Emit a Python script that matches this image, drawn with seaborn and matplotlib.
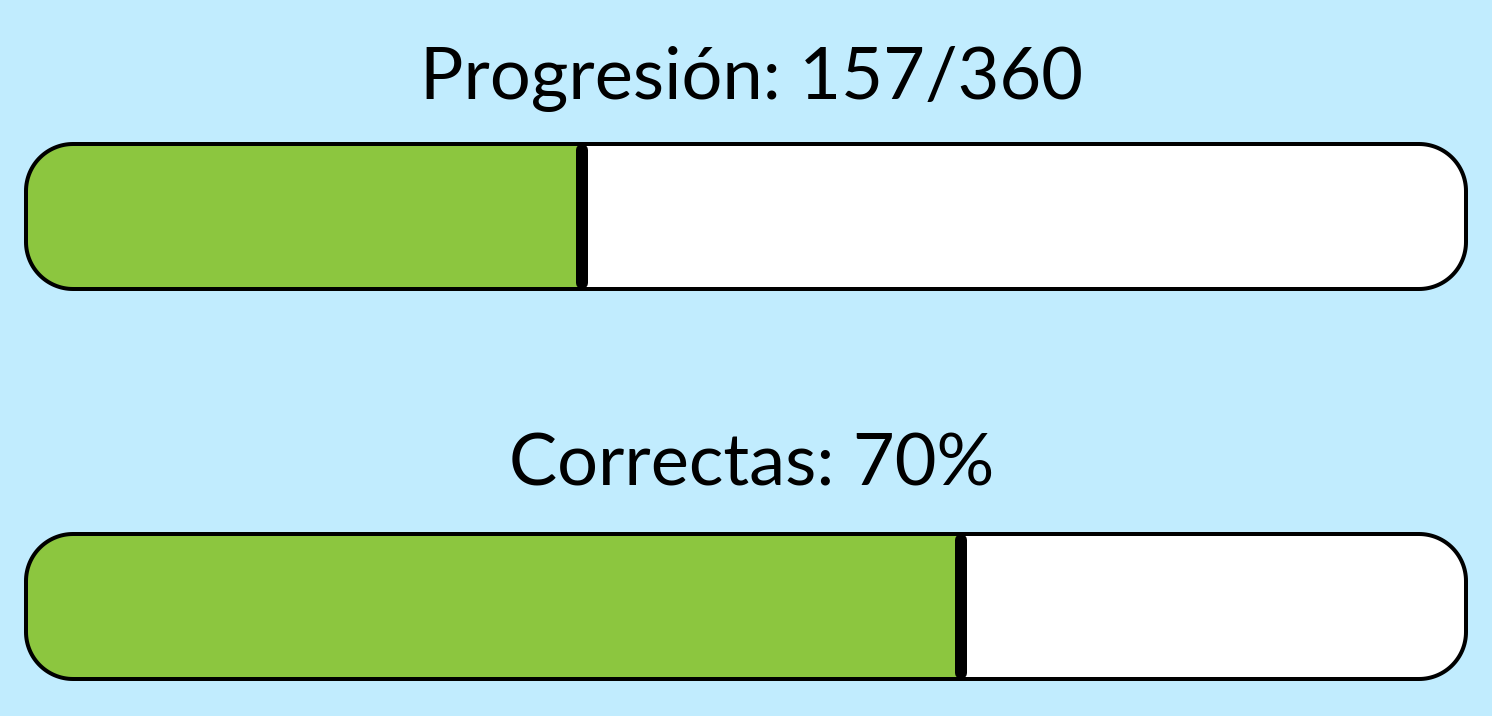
import matplotlib
matplotlib.use("Agg")
import numpy as np
import matplotlib.pyplot as plt
import seaborn as sns
import pandas as pd
from matplotlib.patches import PathPatch
from matplotlib.path import Path

# ---- data ----
metrics = ["Progresión", "Correctas"]
titles = ["Progresión: 157/360", "Correctas: 70%"]
fill_fraction = [0.386, 0.649]   # filled share of each bar, as drawn
full = [1.0, 1.0]

df = pd.DataFrame({"metric": metrics, "fill": fill_fraction, "full": full})

# ---- style ----
sns.set_theme(style="white")
plt.rcParams["font.family"] = ["Lato", "DejaVu Sans"]

BG = "#C1ECFE"
GREEN = "#8CC63F"

W, H, DPI = 1492, 716, 100
fig = plt.figure(figsize=(W / DPI, H / DPI), dpi=DPI, facecolor=BG)

# layout in pixels
left_px, width_px = 26, 1440
spacing_px = 390            # distance between bar centres
first_center_px = 216.5     # centre of first bar from top
bar_h_px = 145
radius_px = 47
title_gap_px = [44.5, 49]   # baseline distance above each bar
title_center_px = 752

ax = fig.add_axes([left_px / W, 0, width_px / W, 1])
ax.set_facecolor("none")

bar_w = bar_h_px / spacing_px

sns.barplot(data=df, y="metric", x="full", color="white", saturation=1,
            width=bar_w, orient="h", linewidth=0, ax=ax, zorder=1)
sns.barplot(data=df, y="metric", x="fill", color=GREEN, saturation=1,
            width=bar_w, orient="h", linewidth=0, ax=ax, zorder=2)

ax.set_xlim(0, 1)
y_top = -first_center_px / spacing_px
y_bot = (H - first_center_px) / spacing_px
ax.set_ylim(y_bot, y_top)
ax.axis("off")

px_per_x = width_px / 1.0
px_per_y = spacing_px
rx = radius_px / px_per_x
ry = radius_px / px_per_y


def rounded_rect(x0, y0, w, h):
    """Rounded rectangle path in data units with circular (in pixels) corners."""
    x1, y1 = x0 + w, y0 + h

    def arc(cx, cy, a0, a1):
        t = np.linspace(np.radians(a0), np.radians(a1), 32)
        return list(zip(cx + rx * np.cos(t), cy + ry * np.sin(t)))

    pts = []
    pts += arc(x0 + rx, y0 + ry, 180, 270)
    pts += arc(x1 - rx, y0 + ry, 270, 360)
    pts += arc(x1 - rx, y1 - ry, 0, 90)
    pts += arc(x0 + rx, y1 - ry, 90, 180)
    verts = pts + [pts[0]]
    codes = [Path.MOVETO] + [Path.LINETO] * (len(pts) - 1) + [Path.CLOSEPOLY]
    return Path(verts, codes)


lw_border = 4 * 72 / DPI
lw_div = 12 * 72 / DPI

n = len(metrics)
white_bars = ax.patches[:n]
green_bars = ax.patches[n:2 * n]

for i in range(n):
    wb = white_bars[i]
    x0, y0 = wb.get_x(), wb.get_y()
    w, h = wb.get_width(), wb.get_height()
    path = rounded_rect(x0, y0, w, h)

    clip = PathPatch(path, transform=ax.transData, facecolor="none", edgecolor="none")
    wb.set_clip_path(clip)
    green_bars[i].set_clip_path(clip)

    outline = PathPatch(path, facecolor="none", edgecolor="black",
                        linewidth=lw_border, joinstyle="round", zorder=4,
                        clip_on=False)
    ax.add_patch(outline)

    gb = green_bars[i]
    xf = gb.get_x() + gb.get_width()
    inset = 6 / px_per_y
    ax.plot([xf, xf], [y0 + inset, y0 + h - inset], color="black",
            linewidth=lw_div, solid_capstyle="round", zorder=5, clip_on=False)

    baseline_px = first_center_px + i * spacing_px - bar_h_px / 2 - title_gap_px[i]
    fig.text(title_center_px / W, 1 - baseline_px / H, titles[i],
             ha="center", va="baseline", fontsize=52, color="black")

fig.savefig("out.png", dpi=DPI, facecolor=BG)
